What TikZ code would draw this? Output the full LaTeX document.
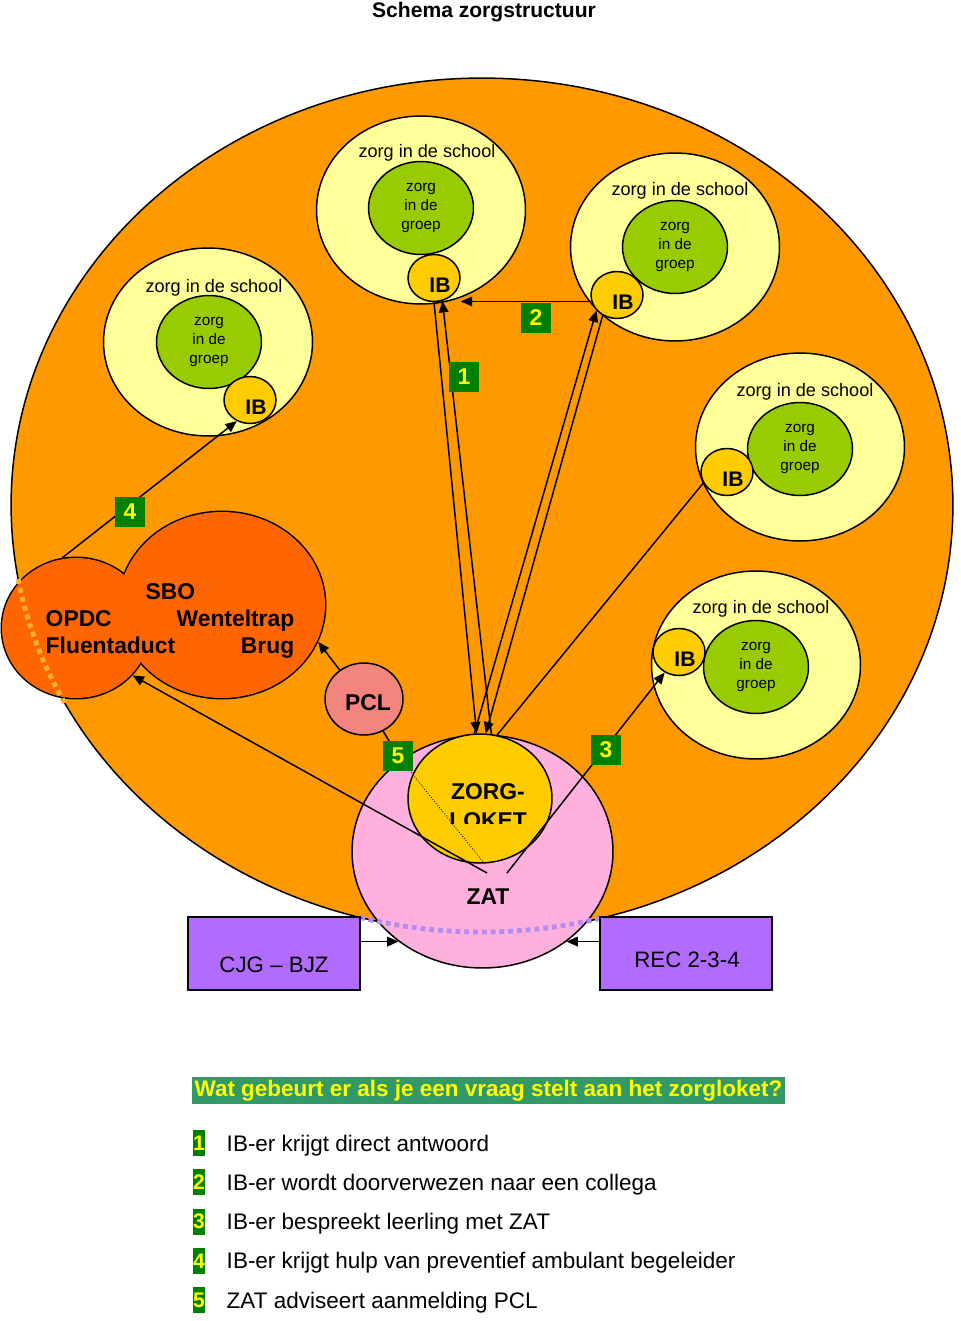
\documentclass[tikz,border=0pt]{standalone}
\usepackage{fontspec}
\setmainfont{Liberation Sans}
\usetikzlibrary{shapes.geometric,arrows.meta}

\definecolor{oranje}{HTML}{FF9900}
\definecolor{lichtgeel}{HTML}{FFFF99}
\definecolor{groepgroen}{HTML}{99CC00}
\definecolor{ibgeel}{HTML}{FFCC00}
\definecolor{sborood}{HTML}{FF6600}
\definecolor{pclrood}{HTML}{F4847E}
\definecolor{zatroze}{HTML}{FFB0DC}
\definecolor{paars}{HTML}{B26BFF}
\definecolor{lichtpaars}{HTML}{B48CF2}
\definecolor{stiporanje}{HTML}{FFAE35}
\definecolor{nrgroen}{HTML}{008000}
\definecolor{kopgroen}{HTML}{339966}
\definecolor{nrgeel}{HTML}{FFFF00}

\tikzset{
  school/.style={ellipse, draw, fill=lichtgeel, minimum width=4.18cm, minimum height=3.76cm, inner sep=0pt},
  schooltext/.style={font=\fontsize{10.3}{12}\selectfont, inner sep=0pt},
  groep/.style={ellipse, draw, fill=groepgroen, minimum width=2.1cm, minimum height=1.86cm, inner sep=0pt,
    align=center, font=\fontsize{8.7}{11}\selectfont},
  ib/.style={ellipse, draw, fill=ibgeel, minimum width=1.04cm, minimum height=0.94cm, inner sep=0pt},
  ibtext/.style={font=\bfseries\fontsize{12}{14}\selectfont, inner sep=0pt},
  sbo/.style={ellipse, fill=sborood, inner sep=0pt},
  sbotext/.style={font=\bfseries\fontsize{13}{15}\selectfont, inner sep=0pt},
  nr/.style={fill=nrgroen, text=nrgeel, font=\bfseries\fontsize{13}{15}\selectfont,
    minimum width=0.6cm, minimum height=0.6cm, inner sep=0pt},
  vak/.style={draw, fill=paars, minimum width=3.44cm, minimum height=1.46cm, inner sep=0pt},
  vaktext/.style={font=\fontsize{12.7}{15}\selectfont, inner sep=0pt},
  legtext/.style={font=\fontsize{12.8}{15}\selectfont, inner sep=0pt, anchor=base west},
}

\begin{document}
\begin{tikzpicture}[x=0.02cm, y=-0.02cm, line width=0.85pt, >={Triangle[length=6.5pt,width=5.5pt]}]

\useasboundingbox (0,0) rectangle (960,1321);

\node[font=\bfseries\fontsize{12}{14}\selectfont, anchor=north, inner sep=0pt] (titel) at (484,1) {Schema zorgstructuur};

% grote ellips
\draw[fill=oranje] (482,505) ellipse [x radius=9.42cm, y radius=8.54cm];

% scholen
\foreach \n/\sx/\sy/\gx/\gy/\ix/\iy/\lx/\ly in {
  1/208/342/209/342/250/400/214/288,
  2/421/210/421/208/434/278/427/153,
  3/675/247/675/247/617/295/680/191,
  4/800/447/800/449/727/472/805/392,
  5/756/665/756/667/679/652/761/609}{
  \node[school] (school\n) at (\sx,\sy) {};
  \node[groep] (groep\n) at (\gx,\gy) {zorg\\in de\\groep};
  \node[ib] (ib\n) at (\ix,\iy) {};
  \node[ibtext] (ibl\n) at ([shift={(6,7)}]ib\n.center) {IB};
  \node[schooltext] (schoollabel\n) at (\lx,\ly) {zorg in de school};
}

% SBO wolk
\node[sbo, draw, line width=1.7pt, minimum width=2.96cm, minimum height=2.8cm] (sboL) at (76,628) {};
\node[sbo, draw, line width=1.7pt, minimum width=4.12cm, minimum height=3.72cm] (sboR) at (222,605) {};
\node[sbo, minimum width=2.96cm, minimum height=2.8cm] (sboLvul) at (76,628) {};
\node[sbo, minimum width=4.12cm, minimum height=3.72cm] (sboRvul) at (222,605) {};

\node[sbotext, anchor=base west] (sbo) at (145,599) {SBO};
\node[sbotext, anchor=base west] (opdc) at (45,626) {OPDC};
\node[sbotext, anchor=base west] (fluent) at (45,653) {Fluentaduct};
\node[sbotext, anchor=base east] (wentel) at (295,626) {Wenteltrap};
\node[sbotext, anchor=base east] (brug) at (295,653) {Brug};

\draw[stiporanje, line width=2.8pt, dash pattern=on 2.8pt off 2.4pt]
  plot[domain=152.4:170.2, samples=30] ({482+471*cos(\x)},{505+427*sin(\x)});

% ZAT en zorgloket
\node[ellipse, draw, fill=zatroze, minimum width=5.22cm, minimum height=4.66cm, inner sep=0pt] (zat) at (482.5,851.5) {};
\node[ellipse, draw, fill=ibgeel, minimum width=2.88cm, minimum height=2.58cm, inner sep=0pt] (loket) at (480,798.5) {};
\node[ellipse, draw, fill=pclrood, minimum width=1.56cm, minimum height=1.44cm, inner sep=0pt] (pcl) at (364,699) {};
\node[sbotext] (pcltekst) at (368,703) {PCL};
\node[sbotext] (zattekst) at (488,897) {ZAT};
\begin{scope}
  \clip (400,770) rectangle (560,823);
  \node[sbotext] (zorgtekst) at (488,792) {ZORG-};
  \node[sbotext] (lokettekst) at (488,820.5) {LOKET};
\end{scope}

\draw[lichtpaars, line width=2.8pt, dash pattern=on 2.8pt off 2.2pt]
  plot[domain=75.5:104.8, samples=30] ({482+471*cos(\x)},{505+427*sin(\x)});

% verbindingen
\coordinate (zatL) at (487,873);
\coordinate (zatR) at (507,873);
\coordinate (zatM) at (484,863);
\coordinate (p1) at (464,377);
\coordinate (p2) at (536,318);
\coordinate (p3) at (606,750);
\coordinate (p4) at (130,512);
\coordinate (p5) at (398,756);

\draw[->] (sboL.101) -- (ib1.238);
\draw[->] (ib3.194) -- (ib3.194 -| ib2.east);
\draw[->] (ib2.south) -- (loket.93);
\draw[->] (loket.80) -- (ib2.290);
\draw[->] (loket.95) -- (ib3.217);
\draw[->] (ib3.235) -- (loket.85);
\draw (loket.75) -- (ib4.205);
\draw[->] (zatL) -- (sboL.320);
\draw[->] (zatR) -- (ib5.235);
\draw[->] (pcl.130) -- (sboR.339);
\draw (pcl) -- (p5);
\draw[line width=0.5pt, densely dotted] (p5) -- (zatM);

% nummers
\foreach \k in {1,...,5}{
  \node[nr] (n\k) at (p\k) {\k};
}

% CJG en REC
\node[vak] (cjg) at (274,953.5) {};
\node[vaktext] (cjgtekst) at (274,965) {CJG – BJZ};
\node[vak] (rec) at (686,953.5) {};
\node[vaktext] (rectekst) at (687,960) {REC 2-3-4};
\draw[->] (cjg.east |- zat.227) -- (zat.227);
\draw[->] (rec.west |- zat.313) -- (zat.313);

% legenda
\node[fill=kopgroen, text=nrgeel, font=\bfseries\fontsize{12.8}{15}\selectfont, minimum width=11.86cm,
  minimum height=0.54cm, inner sep=0pt] (kop) at (488.5,1090.5) {Wat gebeurt er als je een vraag stelt aan het zorgloket?};
\foreach \t [count=\k] in {IB-er krijgt direct antwoord, IB-er wordt doorverwezen naar een collega,
  IB-er bespreekt leerling met ZAT, IB-er krijgt hulp van preventief ambulant begeleider,
  ZAT adviseert aanmelding PCL}{
  \node[nr, minimum width=0.24cm, minimum height=0.52cm, font=\bfseries\fontsize{12}{14}\selectfont]
    (legnr\k) at (199,{1143+(\k-1)*39.25}) {\k};
  \node[legtext] (legtekst\k) at (226,{1151+(\k-1)*39.25}) {\t};
}

\end{tikzpicture}
\end{document}
